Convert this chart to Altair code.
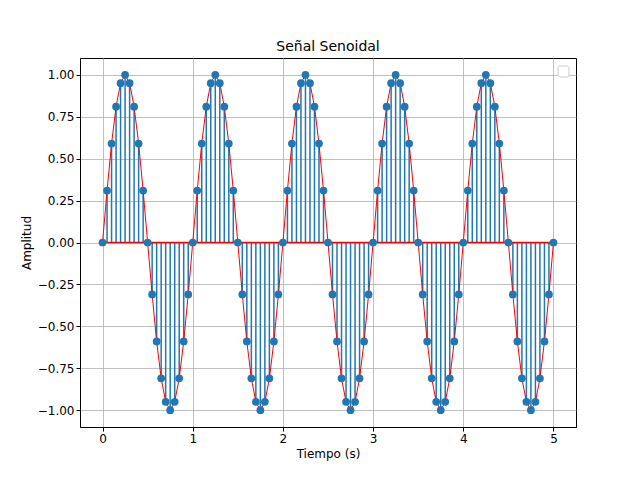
import altair as alt
import pandas as pd

t = [round(0.05 * i, 2) for i in range(101)]
amp = (
    [0, 0.31, 0.59, 0.81, 0.95, 1, 0.95, 0.81, 0.59, 0.31, 0, -0.31, -0.59, -0.81, -0.95, -1, -0.95, -0.81, -0.59, -0.31]
    + [0, 0.31, 0.59, 0.81, 0.95, 1, 0.95, 0.81, 0.59, 0.31, 0, -0.31, -0.59, -0.81, -0.95, -1, -0.95, -0.81, -0.59, -0.31]
    + [0, 0.31, 0.59, 0.81, 0.95, 1, 0.95, 0.81, 0.59, 0.31, 0, -0.31, -0.59, -0.81, -0.95, -1, -0.95, -0.81, -0.59, -0.31]
    + [0, 0.31, 0.59, 0.81, 0.95, 1, 0.95, 0.81, 0.59, 0.31, 0, -0.31, -0.59, -0.81, -0.95, -1, -0.95, -0.81, -0.59, -0.31]
    + [0, 0.31, 0.59, 0.81, 0.95, 1, 0.95, 0.81, 0.59, 0.31, 0, -0.31, -0.59, -0.81, -0.95, -1, -0.95, -0.81, -0.59, -0.31]
    + [0]
)
df = pd.DataFrame({"t": t, "a": amp, "zero": [0] * len(t)})

x = alt.X("t:Q", scale=alt.Scale(domain=[-0.25, 5.25], nice=False, zero=False),
          axis=alt.Axis(values=[0, 1, 2, 3, 4, 5], title="Tiempo (s)", format="d"))
y = alt.Y("a:Q", scale=alt.Scale(domain=[-1.1, 1.1], nice=False),
          axis=alt.Axis(values=[-1, -0.75, -0.5, -0.25, 0, 0.25, 0.5, 0.75, 1], format=".2f", title="Amplitud"))

base = alt.Chart(df)
stems = base.mark_rule(color="#1f77b4", strokeWidth=1.5).encode(x=x, y=y, y2="zero:Q")
baseline = base.mark_rule(color="red", strokeWidth=1.5).encode(
    x=alt.X("min(t):Q"), x2="max(t):Q", y=alt.Y("zero:Q"))
line = base.mark_line(color="red", strokeWidth=1).encode(x=x, y=y)
pts = base.mark_circle(color="#1f77b4", size=60, opacity=1).encode(x=x, y=y)
legend_box = alt.Chart(pd.DataFrame({"d": [0]})).mark_rect(
    fill="white", stroke="#cccccc", cornerRadius=2).encode(
    x=alt.value(478), x2=alt.value(489), y=alt.value(8), y2=alt.value(19))

chart = alt.layer(stems, baseline, line, pts, legend_box).properties(
    width=496, height=369,
    title=alt.Title("Señal Senoidal", fontSize=14, fontWeight="normal", font="DejaVu Sans", color="black"),
    autosize=alt.AutoSizeParams(type="none"),
    padding={"left": 72, "top": 50, "right": 56, "bottom": 45},
).configure_view(stroke="black", strokeWidth=1).configure_axis(
    grid=True, gridColor="#b0b0b0", gridWidth=0.8, domainColor="black", tickColor="black",
    labelFont="DejaVu Sans", titleFont="DejaVu Sans", labelFontSize=12, titleFontSize=12,
    titleFontWeight="normal", labelColor="black", titleColor="black", tickSize=4
)
chart.save("out.html", embed_options={"renderer": "svg", "actions": False})
